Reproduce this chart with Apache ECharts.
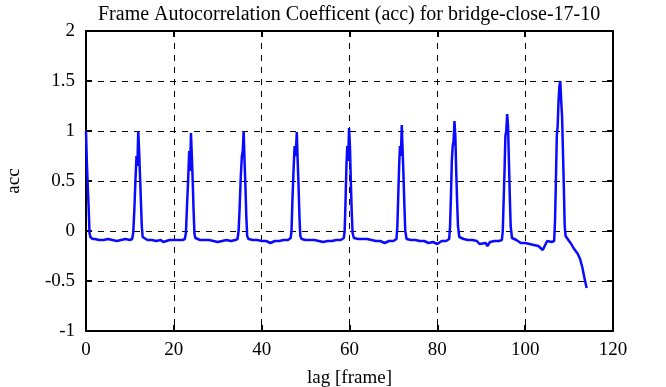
<!DOCTYPE html>
<html>
<head>
<meta charset="utf-8">
<script src="https://cdn.jsdelivr.net/npm/echarts@6/dist/echarts.min.js"></script>
<style>
  html, body { margin: 0; padding: 0; background: #fff; }
  #main { width: 666px; height: 387px; }
</style>
</head>
<body>
<div id="main"></div>
<script>
// lag values (frames); finer steps around each peak
var lags = [
  0, 0.2, 0.4, 0.6, 0.8, 1, 1.5, 2, 3, 4, 5, 6, 7, 8, 9, 10, 10.5,
  10.75, 11, 11.25, 11.5, 11.7, 11.9, 12.1, 12.3, 12.5, 12.7, 12.9, 13.2,
  14, 15, 16, 17, 17.6, 19, 20, 21, 22, 22.5,
  22.75, 23, 23.25, 23.5, 23.7, 23.9, 24.1, 24.3, 24.5, 24.7, 24.9, 25.2,
  26, 27, 28, 29, 30, 31, 32, 33, 34, 34.5,
  34.75, 35, 35.25, 35.5, 35.7, 35.9, 36.1, 36.3, 36.5, 36.7, 37,
  38, 39, 40, 41, 42, 43, 44, 45, 46, 46.6,
  46.8, 47, 47.25, 47.5, 47.75, 48, 48.2, 48.4, 48.6, 48.8, 49.1,
  50, 51, 52, 53, 54, 55, 56, 57, 58, 58.7,
  58.9, 59.1, 59.3, 59.5, 59.7, 59.9, 60.1, 60.3, 60.5, 60.7, 61,
  62, 63, 64, 65, 66, 67, 68, 69, 70, 70.7,
  70.9, 71.1, 71.3, 71.5, 71.7, 71.9, 72.1, 72.3, 72.5, 72.7, 73,
  74, 75, 76, 77, 78, 79, 80, 81, 82, 82.7,
  82.9, 83.1, 83.3, 83.5, 83.7, 83.9, 84.1, 84.3, 84.5, 84.7, 85,
  86, 87, 88, 89, 89.6, 90, 91, 91.4, 92, 93, 94, 94.7,
  94.9, 95.1, 95.3, 95.5, 95.7, 95.9, 96.1, 96.3, 96.5, 96.7, 97,
  98, 99, 100, 101, 102, 103, 104, 105, 106, 106.6,
  106.8, 107, 107.2, 107.4, 107.6, 107.8, 108, 108.2, 108.4, 108.6, 108.8, 109, 109.2,
  109.5, 110, 110.5, 111, 111.5, 112, 112.5, 113, 113.5, 114
];
var acc = [
  1.0, 0.68, 0.45, 0.24, -0.02, -0.06, -0.08, -0.08, -0.09, -0.09, -0.08, -0.09, -0.10, -0.09, -0.08, -0.09, -0.08,
  -0.02, 0.2, 0.5, 0.75, 0.65, 1.0, 0.8, 0.55, 0.3, 0.05, -0.06, -0.08,
  -0.09, -0.09, -0.10, -0.09, -0.11, -0.09, -0.09, -0.09, -0.09, -0.08,
  -0.02, 0.25, 0.5, 0.8, 0.6, 0.98, 0.75, 0.5, 0.2, -0.03, -0.07, -0.09,
  -0.09, -0.09, -0.09, -0.10, -0.11, -0.10, -0.09, -0.10, -0.09, -0.08,
  0.0, 0.25, 0.55, 0.75, 0.8, 1.0, 0.7, 0.45, 0.15, -0.05, -0.08,
  -0.09, -0.09, -0.10, -0.10, -0.12, -0.10, -0.10, -0.09, -0.09, -0.07,
  0.0, 0.3, 0.6, 0.85, 0.75, 0.99, 0.7, 0.45, 0.15, -0.05, -0.08,
  -0.09, -0.09, -0.09, -0.10, -0.11, -0.10, -0.10, -0.09, -0.09, -0.07,
  0.0, 0.3, 0.65, 0.85, 0.7, 1.03, 0.85, 0.5, 0.2, -0.02, -0.07,
  -0.08, -0.08, -0.08, -0.09, -0.10, -0.10, -0.12, -0.10, -0.10, -0.08,
  0.05, 0.35, 0.65, 0.85, 0.75, 1.06, 0.8, 0.55, 0.25, 0.0, -0.08,
  -0.09, -0.09, -0.10, -0.10, -0.12, -0.11, -0.13, -0.10, -0.10, -0.08,
  0.05, 0.35, 0.7, 0.85, 0.9, 1.10, 0.95, 0.6, 0.3, 0.05, -0.06,
  -0.08, -0.09, -0.09, -0.10, -0.13, -0.11, -0.12, -0.15, -0.11, -0.10, -0.10, -0.09,
  0.0, 0.3, 0.6, 0.95, 1.0, 1.17, 1.05, 0.7, 0.35, 0.05, -0.07,
  -0.09, -0.12, -0.12, -0.13, -0.14, -0.15, -0.19, -0.10, -0.11, -0.10,
  0.1, 0.5, 0.95, 1.05, 1.3, 1.45, 1.5, 1.3, 1.15, 0.8, 0.45, 0.05, -0.05,
  -0.07, -0.10, -0.13, -0.17, -0.20, -0.23, -0.28, -0.36, -0.47, -0.57
];

var xTicks = [0, 20, 40, 60, 80, 100, 120];
var yTicks = [-1, -0.5, 0, 0.5, 1, 1.5, 2];

var points = lags.map(function (l, i) { return [l, acc[i]]; });

var chart = echarts.init(document.getElementById('main'));
var serif = 'Liberation Serif';

var labelStyle = { fontFamily: serif, fontSize: 19, color: '#000' };

var option = {
    backgroundColor: '#fff',
    animation: false,
    textStyle: { fontFamily: serif, color: '#000' },
    title: {
        text: 'Frame Autocorrelation Coefficent (acc) for bridge-close-17-10',
        left: 93,
        top: 0,
        textStyle: {
            fontFamily: serif,
            fontWeight: 'normal',
            fontSize: 20,
            color: '#000'
        }
    },
    grid: {
        left: 86,
        right: 53,
        top: 31,
        bottom: 56,
        containLabel: false,
        outerBoundsMode: 'none'
    },
    xAxis: [{
        type: 'value',
        min: xTicks[0],
        max: xTicks[xTicks.length - 1],
        interval: 20,
        name: 'lag [frame]',
        nameLocation: 'middle',
        nameGap: 38,
        nameTextStyle: labelStyle,
        axisLine: { onZero: false, lineStyle: { color: '#000', width: 2 } },
        axisTick: { inside: true, length: 6, lineStyle: { color: '#000', width: 2 } },
        axisLabel: { fontFamily: serif, fontSize: 19, color: '#000', margin: 10 },
        splitLine: { show: true, lineStyle: { color: '#000', type: [6, 6], width: 1 } }
    }, {
        // top frame edge
        type: 'value',
        position: 'top',
        min: xTicks[0],
        max: xTicks[xTicks.length - 1],
        interval: 20,
        axisLine: { onZero: false, lineStyle: { color: '#000', width: 2 } },
        axisTick: { inside: true, length: 6, lineStyle: { color: '#000', width: 2 } },
        axisLabel: { show: false },
        splitLine: { show: false }
    }],
    yAxis: [{
        type: 'value',
        min: yTicks[0],
        max: yTicks[yTicks.length - 1],
        interval: 0.5,
        name: 'acc',
        nameLocation: 'middle',
        nameGap: 62,
        nameTextStyle: labelStyle,
        axisLine: { show: true, onZero: false, lineStyle: { color: '#000', width: 2 } },
        axisTick: { show: true, inside: true, length: 6, lineStyle: { color: '#000', width: 2 } },
        axisLabel: { fontFamily: serif, fontSize: 19, color: '#000', margin: 11 },
        splitLine: { show: true, lineStyle: { color: '#000', type: [6, 6], width: 1 } }
    }, {
        // right frame edge
        type: 'value',
        position: 'right',
        min: yTicks[0],
        max: yTicks[yTicks.length - 1],
        interval: 0.5,
        axisLine: { show: true, onZero: false, lineStyle: { color: '#000', width: 2 } },
        axisTick: { show: true, inside: true, length: 6, lineStyle: { color: '#000', width: 2 } },
        axisLabel: { show: false },
        splitLine: { show: false }
    }],
    series: [{
        type: 'line',
        data: points,
        showSymbol: false,
        smooth: false,
        lineStyle: { color: '#0a0aff', width: 2.5 },
        itemStyle: { color: '#0a0aff' }
    }]
};

chart.setOption(option);
</script>
</body>
</html>
